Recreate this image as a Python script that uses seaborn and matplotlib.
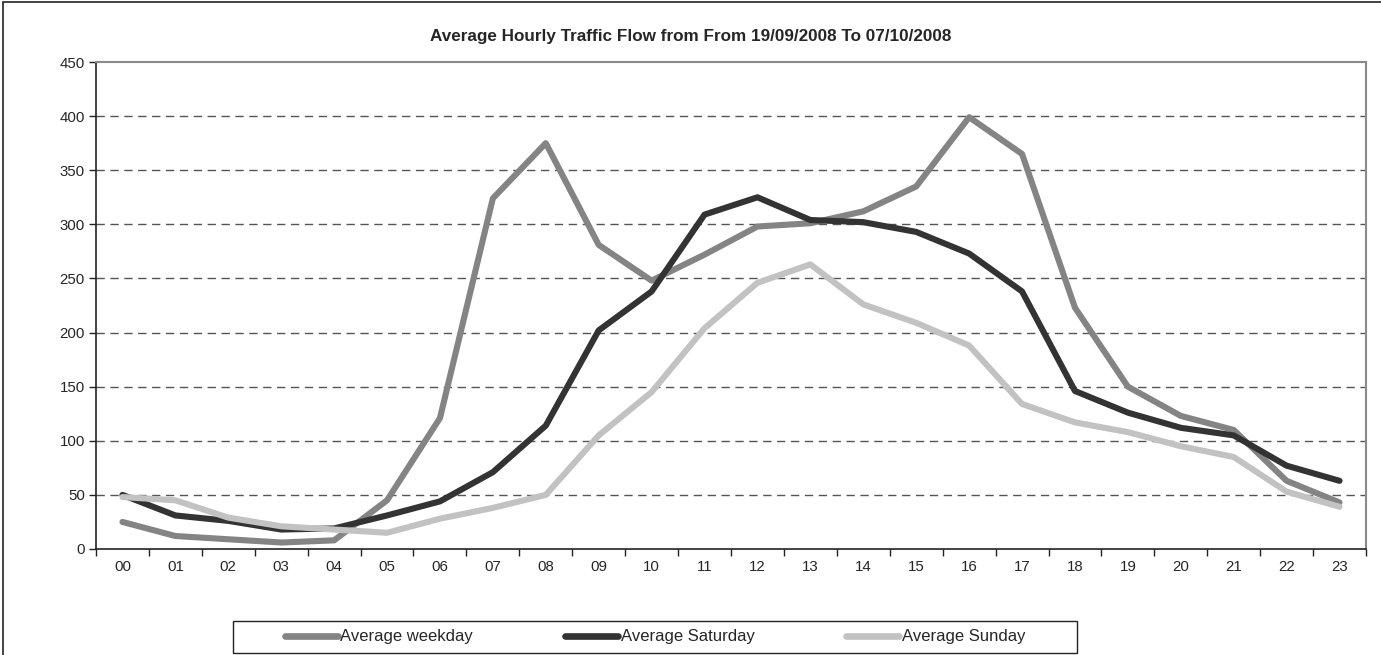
import matplotlib
matplotlib.use("Agg")
import matplotlib.pyplot as plt
import seaborn as sns
import pandas as pd
from matplotlib.patches import Rectangle

hours = ["00", "01", "02", "03", "04", "05", "06", "07", "08", "09", "10", "11",
         "12", "13", "14", "15", "16", "17", "18", "19", "20", "21", "22", "23"]
weekday = [25, 12, 9, 6, 8, 45, 121, 324, 375, 281, 248, 272,
           298, 301, 312, 335, 399, 365, 223, 150, 123, 110, 63, 43]
saturday = [50, 31, 26, 18, 19, 31, 44, 71, 114, 202, 238, 309,
            325, 304, 302, 293, 273, 238, 146, 126, 112, 105, 77, 63]
sunday = [48, 45, 29, 21, 18, 15, 28, 38, 50, 105, 145, 204,
          246, 263, 226, 209, 188, 134, 117, 108, 95, 85, 53, 39]
series_names = ["Average weekday", "Average Saturday", "Average Sunday"]
colors = ["#848484", "#333333", "#c2c2c2"]

rows = []
for name, vals in zip(series_names, [weekday, saturday, sunday]):
    for i, v in enumerate(vals):
        rows.append({"hour": i, "flow": v, "series": name})
df = pd.DataFrame(rows)

sns.set_style("white")
plt.rcParams["font.family"] = ["Liberation Sans", "DejaVu Sans"]

W, H = 1381, 655
fig = plt.figure(figsize=(W / 100, H / 100), dpi=100)
ax = fig.add_axes([96 / W, 1 - 549 / H, 1270 / W, 487 / H])

sns.lineplot(data=df, x="hour", y="flow", hue="series", hue_order=series_names,
             palette=colors, linewidth=4.4, ax=ax, legend=False, zorder=3)

ax.set_xlim(-0.5, 23.5)
ax.set_ylim(0, 450)
ax.set_yticks(range(0, 451, 50))
ax.set_xticks([i - 0.5 for i in range(25)])
ax.set_xticklabels([])
ax.set_xticks(range(24), minor=True)
ax.set_xticklabels(hours, minor=True)
ax.tick_params(axis="x", which="major", direction="out", length=5, width=1, color="#222222", bottom=True)
ax.tick_params(axis="x", which="minor", length=0, pad=8, labelsize=10.8)
ax.tick_params(axis="y", direction="out", length=5, width=1, color="#222222", labelsize=10.8, left=True, pad=3)
ax.set_xlabel("")
ax.set_ylabel("")

for y in range(50, 401, 50):
    ax.axhline(y, color="#555555", linewidth=1, linestyle=(0, (6, 4)), zorder=1)

for s in ["left", "bottom"]:
    ax.spines[s].set_color("#222222")
    ax.spines[s].set_linewidth(1.2)
for s in ["top", "right"]:
    ax.spines[s].set_color("#8a8a8a")
    ax.spines[s].set_linewidth(1.5)

fig.text(0.5, 1 - 37 / H, "Average Hourly Traffic Flow from From 19/09/2008 To 07/10/2008",
         ha="center", va="center", fontsize=12.3, fontweight="bold")

# legend box
fig.patches.append(Rectangle((233 / W, 1 - 653 / H), 844 / W, 32 / H, transform=fig.transFigure,
                             fill=False, edgecolor="#222222", linewidth=1.0))
handles = [plt.Line2D([], [], color=c, linewidth=4.8, solid_capstyle="round") for c in colors]
leg = fig.legend(handles, series_names, loc="center", ncol=3,
                 bbox_to_anchor=(655 / W, 1 - 637 / H),
                 frameon=False, fontsize=12, handlelength=3.2,
                 handletextpad=0.15, columnspacing=5.5, borderaxespad=0, borderpad=0)

# figure frame
fig.patches.append(Rectangle((3 / W, -0.01), 1.02, 1 - 1.5 / H + 0.01, transform=fig.transFigure,
                             fill=False, edgecolor="#222222", linewidth=1.2))

fig.savefig("out.png", dpi=100)
